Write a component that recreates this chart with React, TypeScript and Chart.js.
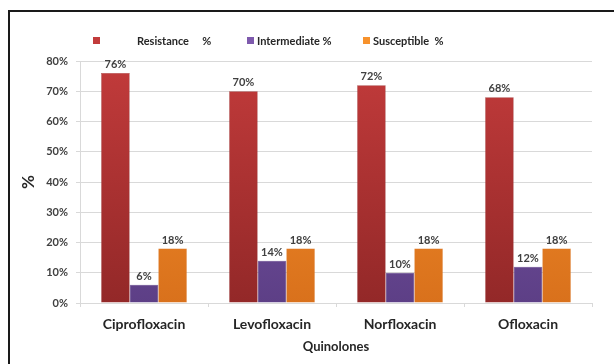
import React, { useEffect, useRef } from "react";
import { Chart, registerables } from "chart.js";

Chart.register(...registerables);

const categories = ["Ciprofloxacin", "Levofloxacin", "Norfloxacin", "Ofloxacin"];
const seriesNames = ["Resistance", "Intermediate", "Susceptible"];
const legendLabels = ["Resistance     %", "Intermediate %", "Susceptible  %"];
const resistance = [76, 70, 72, 68];
const intermediate = [6, 14, 10, 12];
const susceptible = [18, 18, 18, 18];
const yTicks = [0, 10, 20, 30, 40, 50, 60, 70, 80];

const FONT = "Lato, 'Open Sans', sans-serif";
const topColors = ["#C23B3B", "#7E5AAD", "#F7922C"];
const bottomColors = ["#932828", "#5D3F86", "#D9711C"];
const legendX = [93, 247, 363];
const legendTextX = [137, 257, 373];

function gradFor(idx: number) {
  return (ctx: any) => {
    const chart = ctx.chart;
    const area = chart.chartArea;
    if (!area) return topColors[idx];
    const g = chart.ctx.createLinearGradient(0, area.top, 0, area.bottom);
    g.addColorStop(0, topColors[idx]);
    g.addColorStop(1, bottomColors[idx]);
    return g;
  };
}

const framePlugin = {
  id: "frame",
  beforeDraw(chart: any) {
    const c = chart.ctx;
    c.save();
    c.fillStyle = "#ffffff";
    c.fillRect(0, 0, chart.width, chart.height);
    c.strokeStyle = "#1a1a1a";
    c.lineWidth = 2;
    c.beginPath();
    c.moveTo(9, chart.height + 2);
    c.lineTo(9, 11);
    c.lineTo(chart.width + 2, 11);
    c.stroke();
    c.restore();
  },
};

const labelPlugin = {
  id: "valueLabels",
  afterDatasetsDraw(chart: any) {
    const c = chart.ctx;
    c.save();
    c.font = `bold 11px ${FONT}`;
    c.fillStyle = "#404040";
    c.textAlign = "center";
    c.textBaseline = "bottom";
    chart.data.datasets.forEach((ds: any, i: number) => {
      const meta = chart.getDatasetMeta(i);
      meta.data.forEach((el: any, j: number) => {
        c.fillText(`${ds.data[j]}%`, el.x, el.y - 3);
      });
    });
    c.restore();
  },
};

const legendPlugin = {
  id: "customLegend",
  afterDraw(chart: any) {
    const c = chart.ctx;
    c.save();
    c.font = `bold 11px ${FONT}`;
    c.textBaseline = "middle";
    c.textAlign = "left";
    legendLabels.forEach((lab, i) => {
      c.fillStyle = topColors[i];
      c.fillRect(legendX[i], 37, 7, 7);
      c.fillStyle = "#262626";
      c.fillText(lab, legendTextX[i], 41);
    });
    c.restore();
  },
};

export default function App() {
  const ref = useRef<HTMLCanvasElement | null>(null);
  useEffect(() => {
    document.body.style.margin = "0";
    const canvas = ref.current!;
    const chart = new Chart(canvas, {
      type: "bar",
      data: {
        labels: categories,
        datasets: [resistance, intermediate, susceptible].map((d, i) => ({
          label: seriesNames[i],
          data: d,
          backgroundColor: gradFor(i),
          borderColor: bottomColors[i],
          borderWidth: 0.5,
          categoryPercentage: 0.67,
          barPercentage: 1,
        })),
      },
      options: {
        animation: false,
        responsive: false,
        devicePixelRatio: 1,
        layout: { padding: { top: 61, right: 22, left: 0, bottom: 0 } },
        plugins: {
          legend: { display: false },
          tooltip: { enabled: false },
        },
        scales: {
          x: {
            afterFit: (s: any) => {
              s.height = 61;
            },
            grid: {
              drawOnChartArea: false,
              drawTicks: true,
              tickLength: 4,
              color: "#d9d9d9",
            },
            border: { color: "#d9d9d9" },
            ticks: {
              padding: 9,
              color: "#262626",
              font: { family: FONT, size: 14, weight: "bold" },
            },
            title: {
              display: true,
              text: "Quinolones",
              color: "#262626",
              font: { family: FONT, size: 13, weight: "bold" },
              padding: { top: 9, bottom: 9 },
            },
          },
          y: {
            min: 0,
            max: 80,
            afterFit: (s: any) => {
              s.width = 80;
            },
            afterBuildTicks: (s: any) => {
              s.ticks = yTicks.map((v) => ({ value: v }));
            },
            grid: { color: "#d9d9d9", tickLength: 4 },
            border: { color: "#d9d9d9" },
            ticks: {
              padding: 8,
              color: "#404040",
              font: { family: FONT, size: 11, weight: "bold" },
              callback: (v: any) => `${v}%`,
            },
            title: {
              display: true,
              text: "%",
              color: "#262626",
              font: { family: FONT, size: 17, weight: "bold" },
              padding: { top: 18, bottom: 0 },
            },
          },
        },
      },
      plugins: [framePlugin, labelPlugin, legendPlugin],
    });
    return () => chart.destroy();
  }, []);
  return (
    <div style={{ width: 614, height: 364, overflow: "hidden" }}>
      <canvas ref={ref} width={614} height={364} style={{ display: "block" }} />
    </div>
  );
}
